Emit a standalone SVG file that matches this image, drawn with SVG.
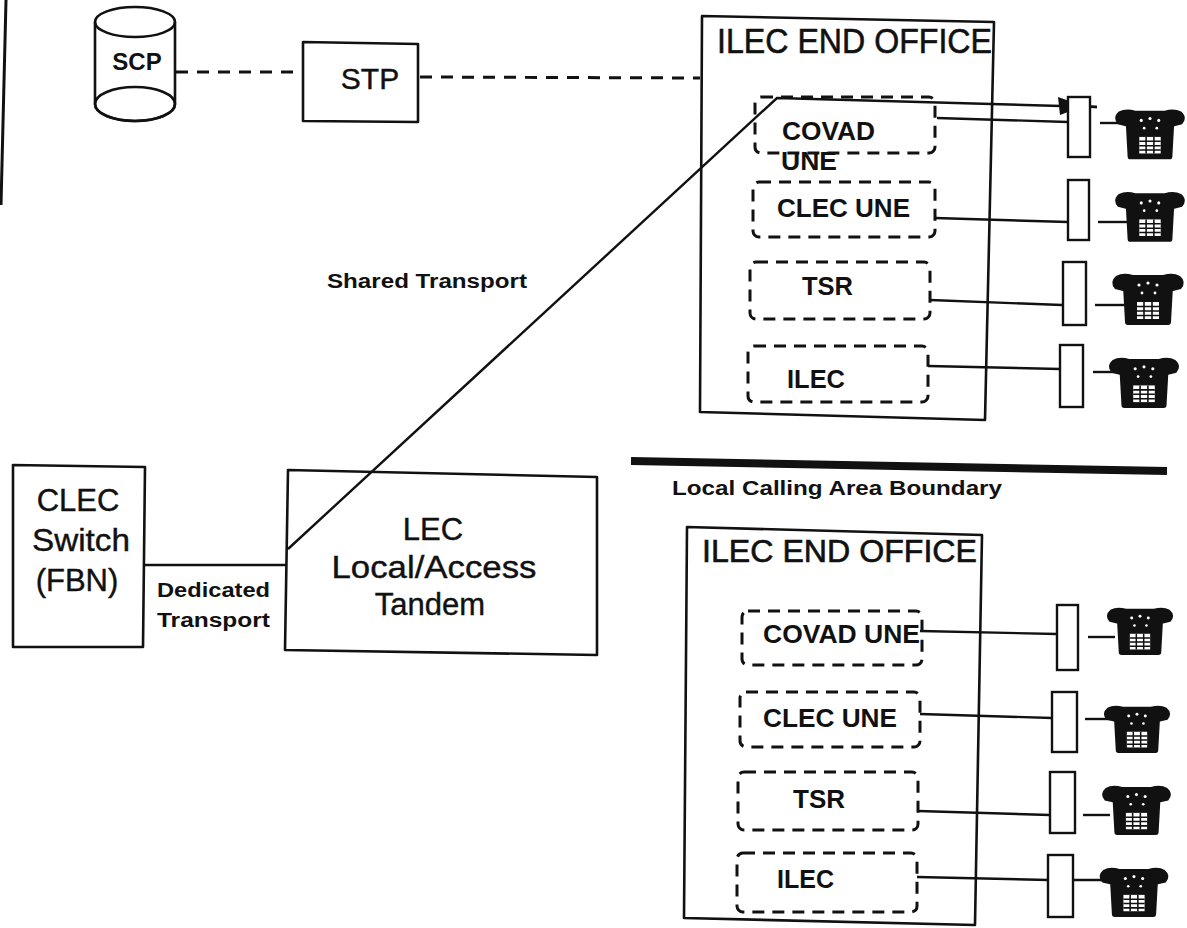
<svg xmlns="http://www.w3.org/2000/svg" xmlns:xlink="http://www.w3.org/1999/xlink" width="1187" height="928" viewBox="0 0 1187 928">
<style>
  text { font-family: "Liberation Sans", Arial, sans-serif; fill: #111; }
  .box { fill: none; stroke: #111; stroke-width: 2.6; stroke-linejoin: round; }
  .dbox { fill: none; stroke: #111; stroke-width: 3; stroke-dasharray: 12 8; }
  .jack { fill: #fff; stroke: #111; stroke-width: 2.4; }
  .wire { fill: none; stroke: #111; stroke-width: 2.4; }
  .dash { fill: none; stroke: #111; stroke-width: 3; stroke-dasharray: 12 9; }
  .lbl { font-size: 25px; font-weight: bold; }
  .title { stroke: #111; stroke-width: 0.6; }
  .big { font-size: 30px; stroke: #111; stroke-width: 0.4; }
  .small { font-size: 20px; font-weight: bold; }
</style>
<defs>
  <symbol id="phone" viewBox="0 0 74 52" overflow="visible">
    <path d="M5,3 Q12,-1 22,2 L52,2 Q62,-1 69,3 Q76,9 70,16 L62,18 L12,18 L4,16 Q-2,9 5,3 Z" fill="#111"/>
    <path d="M15,9 L59,9 Q62,9 62,13 L60,49 Q60,52 57,52 L17,52 Q14,52 14,49 L12,13 Q12,9 15,9 Z" fill="#111"/>
    <circle cx="28" cy="12" r="1.6" fill="#fff"/>
    <circle cx="37" cy="10" r="1.6" fill="#fff"/>
    <circle cx="46" cy="12" r="1.6" fill="#fff"/>
    <circle cx="31" cy="20" r="1.4" fill="#fff"/>
    <circle cx="44" cy="20" r="1.4" fill="#fff"/>
    <rect x="26" y="29" width="22" height="17" fill="#fff"/>
    <path d="M26,33.5 H48 M26,38 H48 M26,42.5 H48 M33,29 V46 M41,29 V46" stroke="#111" stroke-width="1.6"/>
  </symbol>
</defs>
<rect x="0" y="0" width="1187" height="928" fill="#fff"/>

<!-- page edge -->
<line x1="6" y1="0" x2="1" y2="205" stroke="#111" stroke-width="3"/>

<g id="connectors">
  <line class="dash" x1="176" y1="72" x2="300" y2="72"/>
  <line class="dash" x1="420" y1="77" x2="700" y2="78"/>
  <line class="wire" x1="143" y1="565" x2="287" y2="565"/>
  <polyline class="wire" points="288,549 777,98 1097,107"/>
  <polygon points="1084,106 1058,97 1060,115" fill="#111"/>
  <!-- upper office to jacks -->
  <line class="wire" x1="937" y1="118" x2="1068" y2="122"/>
  <line class="wire" x1="935" y1="218" x2="1068" y2="222"/>
  <line class="wire" x1="930" y1="300" x2="1062" y2="305"/>
  <line class="wire" x1="928" y1="366" x2="1060" y2="369"/>
  <!-- lower office to jacks -->
  <line class="wire" x1="920" y1="631" x2="1057" y2="634"/>
  <line class="wire" x1="920" y1="714" x2="1052" y2="718"/>
  <line class="wire" x1="918" y1="811" x2="1050" y2="815"/>
  <line class="wire" x1="917" y1="877" x2="1048" y2="880"/>
  <!-- jack to phone leads -->
  <line class="wire" x1="1100" y1="123" x2="1128" y2="123"/>
  <line class="wire" x1="1098" y1="222" x2="1128" y2="222"/>
  <line class="wire" x1="1095" y1="305" x2="1125" y2="305"/>
  <line class="wire" x1="1093" y1="372" x2="1120" y2="372"/>
  <line class="wire" x1="1088" y1="637" x2="1115" y2="637"/>
  <line class="wire" x1="1085" y1="719" x2="1110" y2="719"/>
  <line class="wire" x1="1083" y1="815" x2="1110" y2="815"/>
  <line class="wire" x1="1060" y1="880" x2="1108" y2="880"/>
  <line class="wire" x1="1060" y1="105" x2="1097" y2="107"/>
  <!-- local calling area boundary -->
  <line x1="631" y1="461" x2="1167" y2="471" stroke="#111" stroke-width="8"/>
</g>
<text class="small" x="672" y="495" textLength="330" lengthAdjust="spacingAndGlyphs">Local Calling Area  Boundary</text>
<text class="small" x="327" y="288" textLength="200" lengthAdjust="spacingAndGlyphs">Shared Transport</text>

<g id="scp">
  <path d="M95,22 V104 A40,17 0 0 0 175,104 V22" class="box" fill="#fff"/>
  <ellipse cx="135" cy="22" rx="40" ry="15" class="box"/>
  <ellipse cx="135" cy="104" rx="40" ry="17" class="box"/>
  <text x="137" y="70" font-size="24" font-weight="bold" text-anchor="middle">SCP</text>
</g>

<g id="stp">
  <polygon class="box" points="303,42 418,44 418,122 303,121"/>
  <text x="370" y="89" class="big" text-anchor="middle">STP</text>
</g>

<g id="ilec-end-office-1">
  <polygon class="box" points="702,16 994,22 985,420 700,412"/>
  <text class="title" x="717" y="53" font-size="35" textLength="275" lengthAdjust="spacingAndGlyphs">ILEC END OFFICE</text>
  <g id="covad-une-1">
    <rect class="dbox" x="755" y="97" width="180" height="56" rx="6"/>
    <text class="lbl" x="782" y="140" textLength="93" lengthAdjust="spacingAndGlyphs">COVAD</text>
    <text class="lbl" x="781" y="170" textLength="56" lengthAdjust="spacingAndGlyphs">UNE</text>
  </g>
  <g id="clec-une-1">
    <rect class="dbox" x="753" y="182" width="182" height="55" rx="6"/>
    <text class="lbl" x="777" y="217" textLength="133" lengthAdjust="spacingAndGlyphs">CLEC UNE</text>
  </g>
  <g id="tsr-1">
    <rect class="dbox" x="750" y="262" width="180" height="57" rx="6"/>
    <text class="lbl" x="802" y="295" textLength="51" lengthAdjust="spacingAndGlyphs">TSR</text>
  </g>
  <g id="ilec-1">
    <rect class="dbox" x="748" y="346" width="180" height="56" rx="6"/>
    <text class="lbl" x="787" y="388" textLength="58" lengthAdjust="spacingAndGlyphs">ILEC</text>
  </g>
</g>

<g id="jacks-1">
  <rect class="jack" x="1068" y="97" width="22" height="60"/>
  <rect class="jack" x="1068" y="180" width="21" height="60"/>
  <rect class="jack" x="1063" y="262" width="23" height="63"/>
  <rect class="jack" x="1060" y="345" width="23" height="62"/>
</g>

<g id="phones-1">
  <use xlink:href="#phone" href="#phone" x="1114" y="108" width="72" height="52"/>
  <use xlink:href="#phone" href="#phone" x="1114" y="190" width="72" height="53"/>
  <use xlink:href="#phone" href="#phone" x="1111" y="273" width="74" height="52"/>
  <use xlink:href="#phone" href="#phone" x="1107" y="357" width="74" height="51"/>
</g>

<g id="clec-switch">
  <polygon class="box" points="13,465 145,467 143,647 13,647"/>
  <text x="78" y="511" font-size="31" text-anchor="middle" stroke="#111" stroke-width="0.4">CLEC</text>
  <text x="81" y="551" font-size="31" text-anchor="middle" textLength="98" lengthAdjust="spacingAndGlyphs" stroke="#111" stroke-width="0.4">Switch</text>
  <text x="77" y="591" font-size="31" text-anchor="middle" stroke="#111" stroke-width="0.4">(FBN)</text>
</g>
<text x="157" y="597" font-size="20" font-weight="bold" textLength="113" lengthAdjust="spacingAndGlyphs">Dedicated</text>
<text x="157" y="627" font-size="20" font-weight="bold" textLength="113" lengthAdjust="spacingAndGlyphs">Transport</text>

<g id="lec-tandem">
  <polygon class="box" points="288,470 597,477 597,655 285,650"/>
  <text x="433" y="540" font-size="31" text-anchor="middle" stroke="#111" stroke-width="0.4">LEC</text>
  <text x="434" y="578" font-size="31" text-anchor="middle" textLength="205" lengthAdjust="spacingAndGlyphs" stroke="#111" stroke-width="0.4">Local/Access</text>
  <text x="430" y="615" font-size="31" text-anchor="middle" stroke="#111" stroke-width="0.4">Tandem</text>
</g>

<g id="ilec-end-office-2">
  <polygon class="box" points="687,527 982,535 975,925 684,918"/>
  <text class="title" x="702" y="562" font-size="31" textLength="275" lengthAdjust="spacingAndGlyphs">ILEC END OFFICE</text>
  <g id="covad-une-2">
    <rect class="dbox" x="742" y="611" width="180" height="54" rx="6"/>
    <text class="lbl" x="763" y="643" textLength="157" lengthAdjust="spacingAndGlyphs">COVAD UNE</text>
  </g>
  <g id="clec-une-2">
    <rect class="dbox" x="740" y="692" width="180" height="55" rx="6"/>
    <text class="lbl" x="763" y="727" textLength="134" lengthAdjust="spacingAndGlyphs">CLEC UNE</text>
  </g>
  <g id="tsr-2">
    <rect class="dbox" x="738" y="772" width="180" height="58" rx="6"/>
    <text class="lbl" x="793" y="808" textLength="52" lengthAdjust="spacingAndGlyphs">TSR</text>
  </g>
  <g id="ilec-2">
    <rect class="dbox" x="737" y="853" width="180" height="59" rx="6"/>
    <text class="lbl" x="777" y="888" textLength="57" lengthAdjust="spacingAndGlyphs">ILEC</text>
  </g>
</g>

<g id="jacks-2">
  <rect class="jack" x="1057" y="605" width="21" height="65"/>
  <rect class="jack" x="1052" y="692" width="25" height="60"/>
  <rect class="jack" x="1050" y="772" width="25" height="61"/>
  <rect class="jack" x="1048" y="855" width="25" height="62"/>
</g>

<g id="phones-2">
  <use xlink:href="#phone" href="#phone" x="1102" y="607" width="76" height="48"/>
  <use xlink:href="#phone" href="#phone" x="1098" y="705" width="78" height="48"/>
  <use xlink:href="#phone" href="#phone" x="1098" y="785" width="77" height="50"/>
  <use xlink:href="#phone" href="#phone" x="1095" y="867" width="78" height="50"/>
</g>
</svg>
